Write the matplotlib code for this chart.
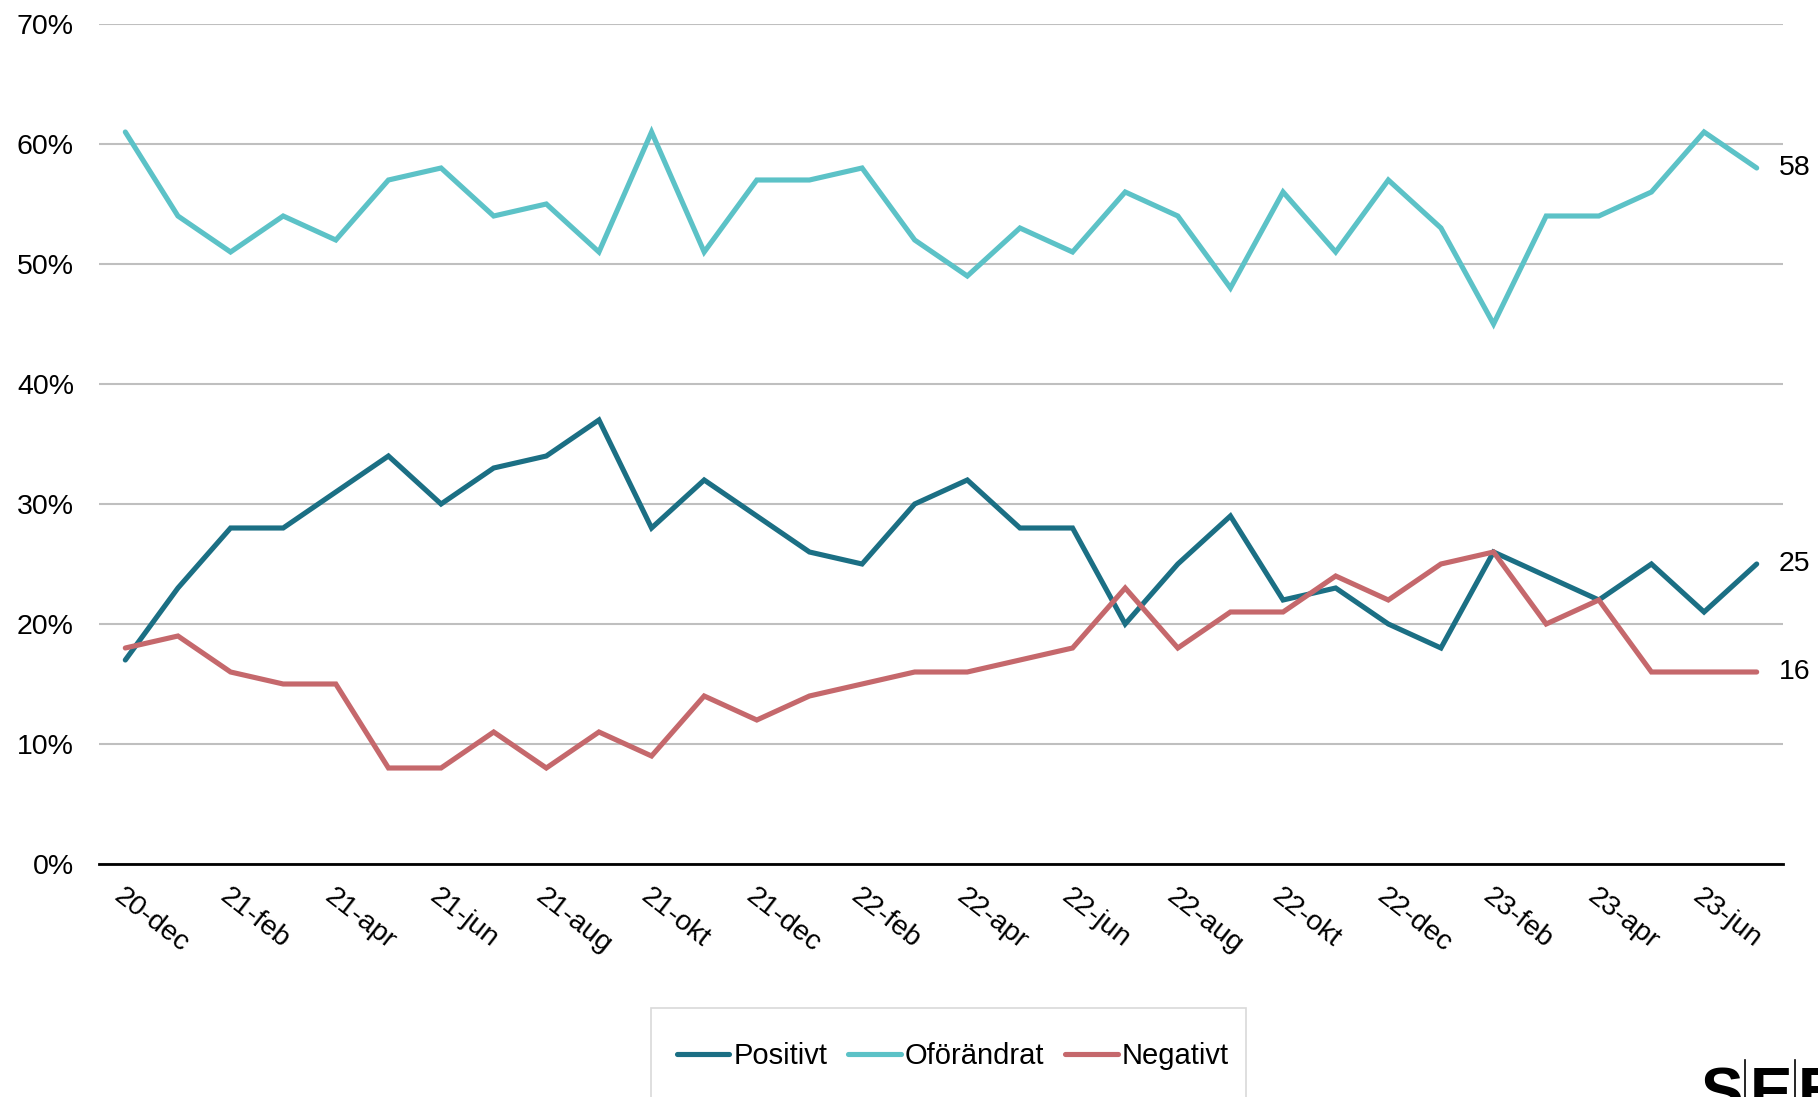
import matplotlib
matplotlib.use('Agg')
import matplotlib.pyplot as plt
import matplotlib.transforms as mtransforms
from matplotlib.patches import Rectangle

plt.rcParams['font.family'] = ['Liberation Sans', 'DejaVu Sans']

# monthly observations, 20-dec .. 23-jul
months = ['20-dec', '21-jan', '21-feb', '21-mar', '21-apr', '21-maj', '21-jun', '21-jul',
          '21-aug', '21-sep', '21-okt', '21-nov', '21-dec', '22-jan', '22-feb', '22-mar',
          '22-apr', '22-maj', '22-jun', '22-jul', '22-aug', '22-sep', '22-okt', '22-nov',
          '22-dec', '23-jan', '23-feb', '23-mar', '23-apr', '23-maj', '23-jun', '23-jul']

positivt = [17, 23, 28, 28, 31, 34, 30, 33, 34, 37, 28, 32, 29, 26, 25, 30,
            32, 28, 28, 20, 25, 29, 22, 23, 20, 18, 26, 24, 22, 25, 21, 25]
oforandrat = [61, 54, 51, 54, 52, 57, 58, 54, 55, 51, 61, 51, 57, 57, 58, 52,
              49, 53, 51, 56, 54, 48, 56, 51, 57, 53, 45, 54, 54, 56, 61, 58]
negativt = [18, 19, 16, 15, 15, 8, 8, 11, 8, 11, 9, 14, 12, 14, 15, 16,
            16, 17, 18, 23, 18, 21, 21, 24, 22, 25, 26, 20, 22, 16, 16, 16]

series = [('Positivt', positivt, '#1B6F84'),
          ('Oförändrat', oforandrat, '#5CC2C7'),
          ('Negativt', negativt, '#C5686C')]

FS = 20.5
W, H = 1818, 1097
fig = plt.figure(figsize=(W / 100, H / 100), dpi=100)
ax = fig.add_axes([99 / W, 1 - 864 / H, (1783 - 99) / W, (864 - 24) / H])

x = list(range(len(months)))
lines = []
for name, vals, color in series:
    ln, = ax.plot(x, vals, color=color, lw=3.7, solid_capstyle='round',
                  solid_joinstyle='miter', label=name, zorder=3)
    lines.append(ln)
    ax.annotate(str(vals[-1]), xy=(x[-1], vals[-1]), xytext=(16, 0),
                textcoords='offset points', va='center', ha='left',
                fontsize=FS, annotation_clip=False)

ax.set_xlim(-0.5, len(months) - 0.5)
ax.set_ylim(0, 70)
ax.set_yticks(range(0, 71, 10))
ax.set_yticklabels([f'{v}%' for v in range(0, 71, 10)], fontsize=FS)
ax.yaxis.grid(True, color='#bfbfbf', lw=1.5)
ax.set_axisbelow(True)

ax.set_xticks(x[::2])
ax.set_xticklabels(months[::2], rotation=-38, ha='left', va='top',
                   rotation_mode='anchor', fontsize=FS)
shift = mtransforms.ScaledTranslation(6 / 100, 0, fig.dpi_scale_trans)
for lbl in ax.get_xticklabels():
    lbl.set_transform(lbl.get_transform() + shift)
ax.tick_params(axis='both', length=0)
ax.tick_params(axis='x', pad=14)
ax.tick_params(axis='y', pad=18)

for s in ['top', 'right', 'left']:
    ax.spines[s].set_visible(False)
ax.spines['bottom'].set_linewidth(2)
ax.spines['bottom'].set_color('black')
ax.spines['bottom'].set_zorder(4)

# legend box (runs past the bottom of the figure)
fig.patches.append(Rectangle((651 / W, -0.01), (1246 - 651) / W, 1.01 - 1008 / H,
                             transform=fig.transFigure, facecolor='white',
                             edgecolor='#d9d9d9', lw=1.2))
fig.legend(handles=lines, loc='center', bbox_to_anchor=(953 / W, 1 - 1056 / H),
           ncol=3, frameon=False, fontsize=21, handlelength=1.8,
           handletextpad=0.15, columnspacing=0.7)

# logo, cut off at the corner
for i, ch in enumerate('SEB'):
    fig.text((1721 + 50 * i) / W, 1 - 1066 / H, ch, fontsize=46, fontweight='bold',
             va='top', ha='center', color='black')
for lx in (1745, 1795):
    fig.add_artist(plt.Line2D([lx / W, lx / W], [0, 1 - 1060 / H],
                              transform=fig.transFigure, color='black', lw=1.2))

fig.savefig('out.png', dpi=100, facecolor='white')
